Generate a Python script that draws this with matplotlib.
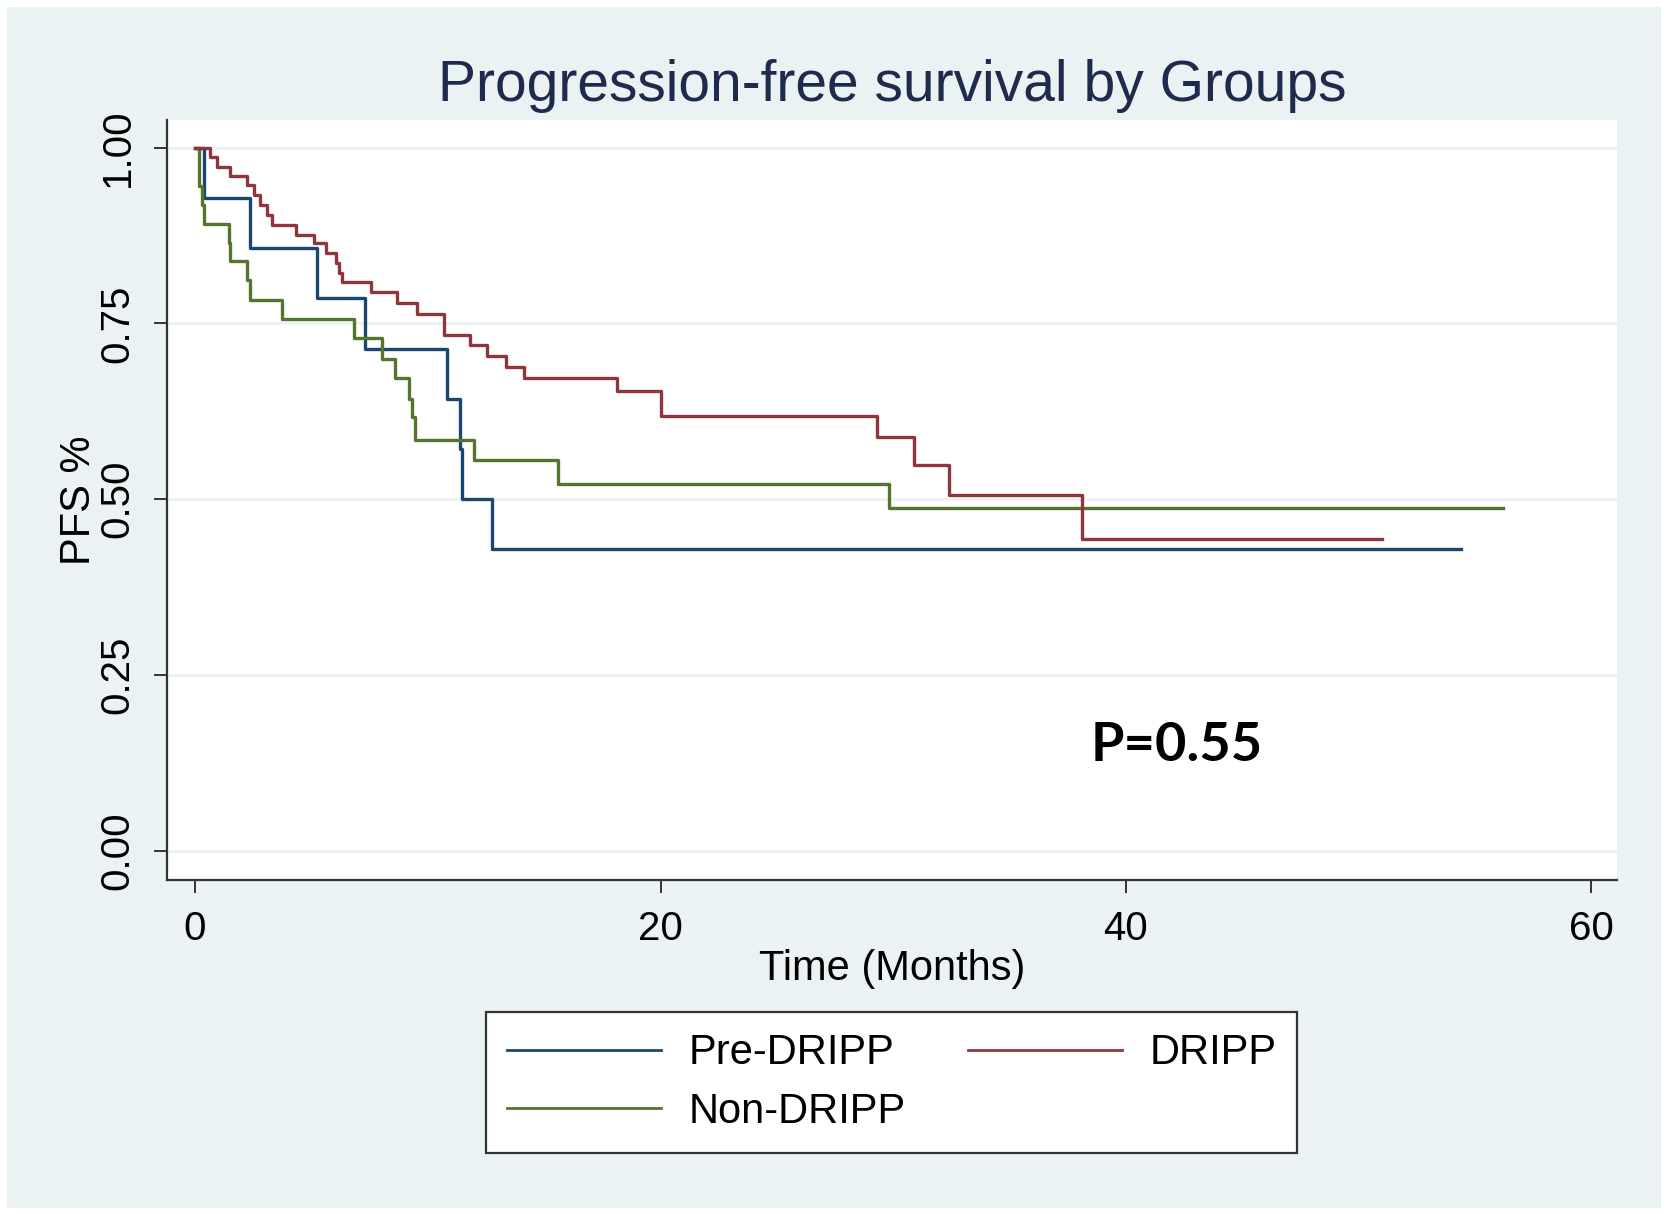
import numpy as np
import matplotlib.pyplot as plt

# Kaplan-Meier steps (time in months, PFS fraction)
pre_t = [0, 0.38, 2.38, 5.25, 7.32, 10.83, 11.38, 11.48, 12.77]
pre_s = [1.0, 0.929, 0.857, 0.786, 0.714, 0.643, 0.571, 0.500, 0.429]
pre_end = 54.4

dripp_t = [0, 0.66, 0.95, 1.52, 2.24, 2.52, 2.81, 3.10, 3.32, 4.32, 5.10,
           5.61, 6.04, 6.18, 6.32, 7.54, 8.69, 9.54, 10.69, 11.83, 12.55,
           13.34, 14.12, 18.13, 20.0, 29.3, 30.9, 32.4, 38.1]
dripp_s = [1.0, 0.987, 0.973, 0.959, 0.947, 0.933, 0.918, 0.904, 0.890, 0.876, 0.864,
           0.850, 0.836, 0.821, 0.809, 0.795, 0.779, 0.764, 0.733, 0.719, 0.703,
           0.688, 0.672, 0.654, 0.618, 0.588, 0.548, 0.506, 0.443]
dripp_end = 51.0

non_t = [0, 0.16, 0.31, 0.38, 1.45, 1.52, 2.24, 2.38, 3.74, 6.82, 8.04,
         8.61, 9.18, 9.33, 9.47, 11.98, 15.6, 29.8]
non_s = [1.0, 0.945, 0.918, 0.892, 0.864, 0.838, 0.812, 0.783, 0.756, 0.729, 0.700,
         0.672, 0.643, 0.617, 0.584, 0.556, 0.522, 0.487]
non_end = 56.2

y_ticks = [0, 0.25, 0.5, 0.75, 1.0]
y_labels = ["0.00", "0.25", "0.50", "0.75", "1.00"]
x_ticks = [0, 20, 40, 60]

bg = "#EAF2F3"
navy = "#1A476F"
maroon = "#90353B"
green = "#55752F"
dark = "#333333"

plt.rcParams['font.family'] = ['Liberation Sans', 'DejaVu Sans']

fig = plt.figure(figsize=(16.67, 12.14), dpi=100, facecolor=bg)
fig.patch.set_edgecolor("white")
fig.patch.set_linewidth(8)
ax = fig.add_axes([0.100, 0.275, 0.870, 0.626])
ax.set_facecolor("white")


def km(ax, t, s, end, color, label):
    ax.step(t + [end], s + [s[-1]], where="post", color=color, lw=2.4, label=label)


km(ax, pre_t, pre_s, pre_end, navy, "Pre-DRIPP")
km(ax, non_t, non_s, non_end, green, "Non-DRIPP")
km(ax, dripp_t, dripp_s, dripp_end, maroon, "DRIPP")

ax.set_xlim(-1.22, 61.1)
ax.set_ylim(-0.042, 1.039)
ax.set_xticks(x_ticks)
ax.set_yticks(y_ticks)
ax.set_yticklabels(y_labels, rotation=90, va="center")
ax.tick_params(direction="out", length=9.5, width=1.4, color=dark,
               labelsize=29, labelcolor="black")
ax.tick_params(axis="x", pad=12)
ax.tick_params(axis="y", pad=12)

ax.grid(axis="y", color=bg, lw=2)
ax.set_axisbelow(True)
for side in ["top", "right"]:
    ax.spines[side].set_visible(False)
for side in ["left", "bottom"]:
    ax.spines[side].set_color(dark)
    ax.spines[side].set_linewidth(1.6)

ax.set_title("Progression-free survival by Groups", fontsize=41,
             color="#1F2B4D", pad=14)
ax.set_xlabel("Time (Months)", fontsize=30)
ax.set_ylabel("PFS %", fontsize=30)
ax.xaxis.set_label_coords(0.5, -0.09)
ax.yaxis.set_label_coords(-0.047, 0.5)

ax.text(38.5, 0.149, "P=0.55", fontsize=39, fontweight="bold",
        family=["Lato", "DejaVu Sans"], va="center", ha="left")

h, l = ax.get_legend_handles_labels()
leg = fig.legend(h, l, loc="upper center", bbox_to_anchor=(0.535, 0.166),
                 borderaxespad=0, ncol=2, fontsize=30, frameon=True,
                 fancybox=False, framealpha=1, facecolor="white",
                 edgecolor=dark, handlelength=3.7, handletextpad=0.65,
                 columnspacing=1.5, labelspacing=0.45, borderpad=0.5)
leg.get_frame().set_linewidth(1.6)
for line in leg.get_lines():
    line.set_linewidth(2.0)

fig.savefig("out.png", dpi=100, facecolor=bg)
